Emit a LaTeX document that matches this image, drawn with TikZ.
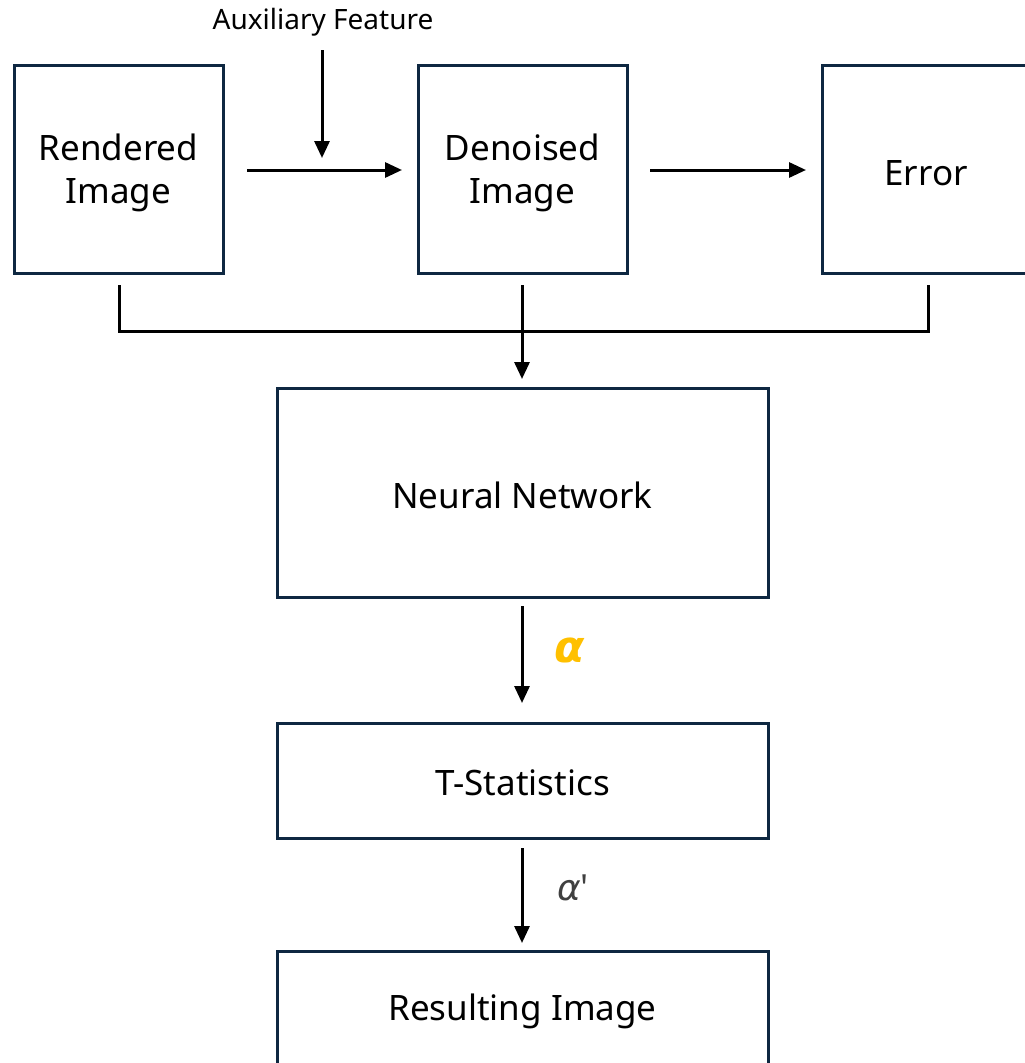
\documentclass[tikz,border=0pt]{standalone}
\usepackage{fontspec}
\setmainfont{Noto Sans}
\newfontfamily\greekfont{DejaVu Sans}
\usetikzlibrary{arrows.meta}
\definecolor{boxline}{HTML}{0E2841}
\definecolor{alphaorange}{HTML}{FFC000}
\definecolor{alphagray}{HTML}{404040}
\begin{document}
\begin{tikzpicture}[x=1pt,y=-1pt,
  blk/.style={draw=boxline,line width=3pt,fill=none},
  lbl/.style={font=\fontsize{35}{43}\selectfont,align=center,inner sep=0pt},
  conn/.style={line width=3pt,draw=black},
  arr/.style={conn,-{Triangle[width=15pt,length=17pt]}}]
\useasboundingbox (0,0) rectangle (1025,1063);
% boxes
\draw[blk] (14,65) rectangle (223,273);
\draw[blk] (418,65) rectangle (627,273);
\draw[blk] (822,65) rectangle (1040,273);
\draw[blk] (277,388) rectangle (768,597);
\draw[blk] (277,723) rectangle (768,838);
\draw[blk] (277,951) rectangle (768,1080);
% labels
\node[lbl] (ren) at (118.5,173) {Rendered\\Image};
\node[lbl] (den) at (522.5,173) {Denoised\\Image};
\node[lbl] (err) at (926,173) {Error};
\node[lbl] (nn) at (522.5,495) {Neural Network};
\node[lbl] (ts) at (522.5,783) {T-Statistics};
\node[lbl] (ri) at (522.5,1011) {Resulting Image};
\node[font=\fontsize{28}{32}\selectfont,inner sep=0pt] (aux) at (323,22) {Auxiliary Feature};
% connector anchor points
\coordinate (renR) at (247,170);
\coordinate (denL) at (402,170);
\coordinate (auxT) at (322,50);
\coordinate (auxB) at (322,158);
\coordinate (denR) at (650,170);
\coordinate (errL) at (806,170);
\coordinate (renB) at (119,285);
\coordinate (errB) at (928,285);
\coordinate (denB) at (522,285);
\coordinate (nnT) at (522,379);
\coordinate (nnB) at (522,606);
\coordinate (tsT) at (522,703);
\coordinate (tsB) at (522,848);
\coordinate (riT) at (522,943);
% connectors
\draw[arr] (renR) -- (denL);
\draw[arr] (auxT) -- (auxB);
\draw[arr] (denR) -- (errL);
\draw[conn] (renB) |- (errB |- 0,331) -- (errB);
\draw[arr] (denB) -- (nnT);
\draw[arr] (nnB) -- (tsT);
\draw[arr] (tsB) -- (riT);
\node[font=\greekfont\fontsize{44}{48}\selectfont\bfseries\itshape,text=alphaorange,inner sep=0pt] (a1) at (570,650) {α};
\node[font=\fontsize{36}{40}\selectfont,text=alphagray,inner sep=0pt] (a2) at (573,888) {{\greekfont\itshape α}\textquotesingle};
\end{tikzpicture}
\end{document}
